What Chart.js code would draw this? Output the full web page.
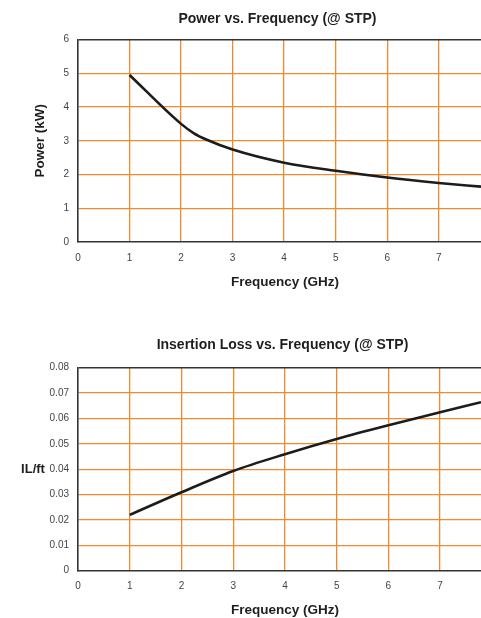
<!DOCTYPE html>
<html>
<head>
<meta charset="utf-8">
<script src="https://cdn.jsdelivr.net/npm/chart.js@4.4.1/dist/chart.umd.min.js"></script>
<style>
  html, body { margin: 0; padding: 0; background: #fff; overflow: hidden; }
  #wrap1 { position: absolute; left: 0; top: 0; width: 481px; height: 300px; }
  #wrap2 { position: absolute; left: 0; top: 310px; width: 481px; height: 308px; }
</style>
</head>
<body>
<div id="wrap1"><canvas id="c1"></canvas></div>
<div id="wrap2"><canvas id="c2"></canvas></div>
<script>
// ---- Data ----
const title1 = 'Power vs. Frequency (@ STP)';
const title2 = 'Insertion Loss vs. Frequency (@ STP)';
const xTitle = 'Frequency (GHz)';
const yTitle1 = 'Power (kW)';
const yTitle2 = 'IL/ft';

const freqPower = [1, 2, 2.25, 2.5, 3, 4, 5, 6, 7, 7.82];
const power     = [4.95, 3.50, 3.22, 3.03, 2.74, 2.35, 2.11, 1.91, 1.75, 1.64];

const freqLoss  = [1, 2, 3, 4, 5, 6, 7, 7.79];
const loss      = [0.022, 0.0309, 0.0393, 0.0459, 0.0519, 0.0573, 0.0624, 0.0664];

const xTickLabels  = ['0', '1', '2', '3', '4', '5', '6', '7'];
const yTickLabels1 = ['0', '1', '2', '3', '4', '5', '6'];
const yTickLabels2 = ['0', '0.01', '0.02', '0.03', '0.04', '0.05', '0.06', '0.07', '0.08'];

// ---- Styles ----
const FONT = '"Liberation Sans", Arial, Helvetica, sans-serif';
const ORANGE = '#f18a2e';
const DARK = '#333333';
const TICKC = '#444444';

function textPlugin(items) {
  return {
    id: 'texts',
    afterDraw(chart) {
      const ctx = chart.ctx;
      ctx.save();
      ctx.fillStyle = '#1e1e1e';
      ctx.textAlign = 'center';
      ctx.textBaseline = 'middle';
      items.forEach(it => {
        ctx.font = 'bold ' + it.size + 'px ' + FONT;
        ctx.fillText(it.text, it.x, it.y);
      });
      ctx.restore();
    }
  };
}

function makeChart(id, xs, ys, xMax, yMax, yStep, yLabels, opts) {
  const pts = xs.map((x, i) => ({x: x, y: ys[i]}));
  return new Chart(document.getElementById(id), {
    type: 'line',
    data: {
      datasets: [{
        data: pts,
        borderColor: '#1c1c1c',
        borderWidth: 2.6,
        pointRadius: 0,
        fill: false,
        cubicInterpolationMode: 'monotone'
      }]
    },
    options: {
      responsive: true,
      maintainAspectRatio: false,
      animation: false,
      events: [],
      layout: { padding: { top: opts.top, left: 0, right: 0, bottom: 0 } },
      plugins: { legend: { display: false }, title: { display: false }, tooltip: { enabled: false } },
      scales: {
        x: {
          type: 'linear',
          min: 0, max: xMax,
          afterFit(scale) { scale.height = opts.xHeight; },
          ticks: {
            stepSize: 1, includeBounds: false, padding: 10,
            color: TICKC, font: { family: FONT, size: 10 },
            callback: (v, i) => xTickLabels[i]
          },
          grid: {
            drawTicks: false,
            lineWidth: 1.3,
            color: c => (c.tick && c.tick.value === 0) ? 'rgba(0,0,0,0)' : ORANGE
          },
          border: { color: DARK, width: 1.6 },
          title: { display: false }
        },
        y: {
          type: 'linear',
          min: 0, max: yMax,
          afterFit(scale) { scale.width = 78; },
          ticks: {
            stepSize: yStep, padding: 9,
            color: TICKC, font: { family: FONT, size: 10 },
            callback: (v, i) => yLabels[i]
          },
          grid: {
            drawTicks: false,
            lineWidth: c => (c.tick && Math.abs(c.tick.value - yMax) < 1e-9) ? 1.6 : 1.3,
            color: c => {
              if (!c.tick) return ORANGE;
              if (Math.abs(c.tick.value - yMax) < 1e-9) return DARK;
              if (c.tick.value === 0) return 'rgba(0,0,0,0)';
              return ORANGE;
            }
          },
          border: { color: DARK, width: 1.6 },
          title: opts.yTitleRotated ? {
            display: true, text: opts.yTitleRotated, color: '#1e1e1e',
            font: { family: FONT, size: 13.5, weight: 'bold' },
            padding: { top: 32, bottom: 0 }
          } : { display: false }
        }
      }
    },
    plugins: [textPlugin(opts.texts)]
  });
}

makeChart('c1', freqPower, power, 7.82, 6, 1, yTickLabels1, {
  top: 39.5, xHeight: 58,
  yTitleRotated: yTitle1,
  texts: [
    { text: title1, x: 277.5, y: 19, size: 14 },
    { text: xTitle, x: 285, y: 282, size: 13.5 }
  ]
});

makeChart('c2', freqLoss, loss, 7.79, 0.08, 0.01, yTickLabels2, {
  top: 57.7, xHeight: 47.3,
  yTitleRotated: null,
  texts: [
    { text: title2, x: 282.5, y: 35, size: 14 },
    { text: yTitle2, x: 33, y: 159, size: 13 },
    { text: xTitle, x: 285, y: 300, size: 13.5 }
  ]
});
</script>
</body>
</html>
